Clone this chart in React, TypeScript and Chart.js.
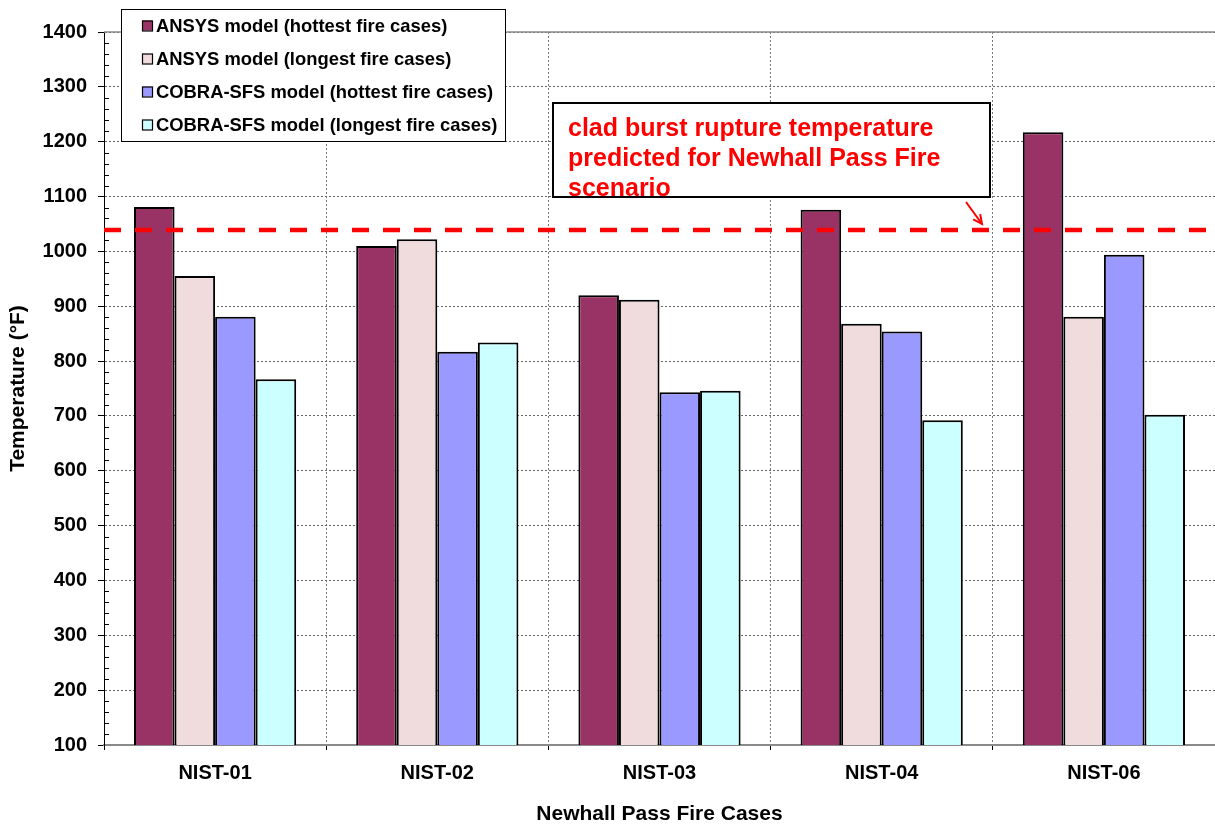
import React, { useEffect, useRef } from "react";
import { Chart, registerables } from "chart.js";

Chart.register(...registerables);

// ---- Data ----
const categories = ["NIST-01", "NIST-02", "NIST-03", "NIST-04", "NIST-06"];
const ansysHottest = [1081, 1010, 920, 1076, 1217];
const ansysLongest = [955, 1022, 912, 868, 881];
const cobraHottest = [881, 817, 743, 854, 994];
const cobraLongest = [767, 834, 746, 692, 702];
const seriesLabels = [
  "ANSYS model (hottest fire cases)",
  "ANSYS model (longest fire cases)",
  "COBRA-SFS model (hottest fire cases)",
  "COBRA-SFS model (longest fire cases)",
];
const seriesColors = ["#993366", "#F0DCDC", "#9999FF", "#CCFFFF"];
const yMin = 100;
const yMax = 1400;
const yStep = 100;
const yMinorStep = 20;
const cladBurstTemp = 1039;
const annotationLines = [
  "clad burst rupture temperature",
  "predicted for Newhall Pass Fire",
  "scenario",
];
const xTitle = "Newhall Pass Fire Cases";
const yTitle = "Temperature (°F)";

const FONT = "'Liberation Sans', Arial, Helvetica, sans-serif";

const decorPlugin = {
  id: "decor",
  afterDraw(chart: any) {
    const ctx = chart.ctx as CanvasRenderingContext2D;
    const area = chart.chartArea;
    const yScale = chart.scales.y;

    ctx.save();
    // top border
    ctx.strokeStyle = "#8a8a8a";
    ctx.lineWidth = 1.5;
    ctx.beginPath();
    ctx.moveTo(area.left, area.top);
    ctx.lineTo(area.right, area.top);
    ctx.stroke();

    // minor ticks on y axis (inside)
    ctx.strokeStyle = "#000";
    ctx.lineWidth = 1;
    for (let v = yMin; v <= yMax; v += yMinorStep) {
      if (v % yStep === 0) continue;
      const y = Math.round(yScale.getPixelForValue(v)) + 0.5;
      ctx.beginPath();
      ctx.moveTo(area.left, y);
      ctx.lineTo(area.left + 5, y);
      ctx.stroke();
    }

    // red dashed reference line
    const yRef = yScale.getPixelForValue(cladBurstTemp);
    ctx.strokeStyle = "#FF0000";
    ctx.lineWidth = 4.5;
    ctx.setLineDash([17, 14]);
    ctx.beginPath();
    ctx.moveTo(area.left, yRef);
    ctx.lineTo(area.right, yRef);
    ctx.stroke();
    ctx.setLineDash([]);

    // annotation box
    const bx = 553, by = 103, bw = 437, bh = 94;
    ctx.fillStyle = "#fff";
    ctx.fillRect(bx, by, bw, bh);
    ctx.strokeStyle = "#000";
    ctx.lineWidth = 2;
    ctx.strokeRect(bx, by, bw, bh);
    ctx.fillStyle = "#FF0000";
    ctx.font = `bold 25px ${FONT}`;
    ctx.textAlign = "left";
    ctx.textBaseline = "middle";
    annotationLines.forEach((t, i) => {
      ctx.fillText(t, bx + 15, by + 26 + i * 30);
    });

    // arrow
    const ax1 = 966, ay1 = by + bh + 5;
    const ax2 = 982, ay2 = yRef - 6;
    ctx.strokeStyle = "#FF0000";
    ctx.lineWidth = 2;
    ctx.beginPath();
    ctx.moveTo(ax1, ay1);
    ctx.lineTo(ax2, ay2);
    ctx.stroke();
    const ang = Math.atan2(ay2 - ay1, ax2 - ax1);
    const hl = 10;
    ctx.beginPath();
    ctx.moveTo(ax2 - hl * Math.cos(ang - 0.45), ay2 - hl * Math.sin(ang - 0.45));
    ctx.lineTo(ax2, ay2);
    ctx.lineTo(ax2 - hl * Math.cos(ang + 0.45), ay2 - hl * Math.sin(ang + 0.45));
    ctx.stroke();

    // legend box
    const lx = 121, ly = 9, lw = 384, lh = 132;
    ctx.fillStyle = "#fff";
    ctx.fillRect(lx, ly, lw, lh);
    ctx.strokeStyle = "#000";
    ctx.lineWidth = 1;
    ctx.strokeRect(lx + 0.5, ly + 0.5, lw, lh);
    ctx.font = `bold 18.4px ${FONT}`;
    ctx.textBaseline = "middle";
    chart.data.datasets.forEach((ds: any, i: number) => {
      const cy = ly + 16.5 + i * 33;
      ctx.fillStyle = ds.backgroundColor;
      ctx.fillRect(142, cy - 5, 10, 10);
      ctx.strokeStyle = "#000";
      ctx.lineWidth = 1.2;
      ctx.strokeRect(142.5, cy - 4.5, 10, 10);
      ctx.fillStyle = "#000";
      ctx.fillText(ds.label, 156, cy + 1);
    });
    ctx.restore();
  },
};

export default function App() {
  const canvasRef = useRef<HTMLCanvasElement | null>(null);

  useEffect(() => {
    if (!canvasRef.current) return;
    const seriesData = [ansysHottest, ansysLongest, cobraHottest, cobraLongest];
    const chart = new Chart(canvasRef.current, {
      type: "bar",
      data: {
        labels: categories,
        datasets: seriesData.map((d, i) => ({
          label: seriesLabels[i],
          data: d,
          backgroundColor: seriesColors[i],
          borderColor: "#000",
          borderWidth: 2,
          categoryPercentage: 0.73,
          barPercentage: 1.0,
        })),
      },
      options: {
        responsive: false,
        animation: false,
        events: [],
        layout: { padding: { top: 32, left: 0, right: -4, bottom: 0 } },
        plugins: {
          legend: { display: false },
          tooltip: { enabled: false },
          title: { display: false },
        },
        scales: {
          x: {
            grid: {
              offset: true,
              color: "#777",
              lineWidth: 1,
              drawTicks: true,
              tickLength: 5,
              tickColor: "#000",
              tickBorderDash: [],
            },
            border: { display: true, color: "#8a8a8a", width: 2, dash: [2, 2] },
            ticks: {
              color: "#000",
              font: { family: FONT, size: 20, weight: "bold" },
              padding: 11,
            },
            title: {
              display: true,
              text: xTitle,
              color: "#000",
              font: { family: FONT, size: 21, weight: "bold" },
              padding: { top: 0, bottom: -3 },
            },
            afterFit(scale: any) {
              scale.height = 79;
            },
          },
          y: {
            min: yMin,
            max: yMax,
            grid: {
              color: "#666",
              lineWidth: 1,
              drawTicks: true,
              tickLength: 6,
              tickColor: "#000",
              tickBorderDash: [],
            },
            border: { display: true, color: "#000", width: 1, dash: [2, 2] },
            ticks: {
              stepSize: yStep,
              color: "#000",
              font: { family: FONT, size: 20, weight: "bold" },
              padding: 11,
              callback: (v: any) => String(v),
            },
            title: {
              display: true,
              text: yTitle,
              color: "#000",
              font: { family: FONT, size: 21, weight: "bold" },
              padding: { top: 6, bottom: 0 },
            },
            afterFit(scale: any) {
              scale.width = 104;
            },
          },
        },
      },
      plugins: [decorPlugin],
    });
    return () => chart.destroy();
  }, []);

  return (
    <div
      style={{
        position: "fixed",
        left: 0,
        top: 0,
        width: 1215,
        height: 824,
        background: "#fff",
      }}
    >
      <canvas
        ref={canvasRef}
        width={1215}
        height={824}
        style={{ display: "block", width: 1215, height: 824 }}
      />
    </div>
  );
}
